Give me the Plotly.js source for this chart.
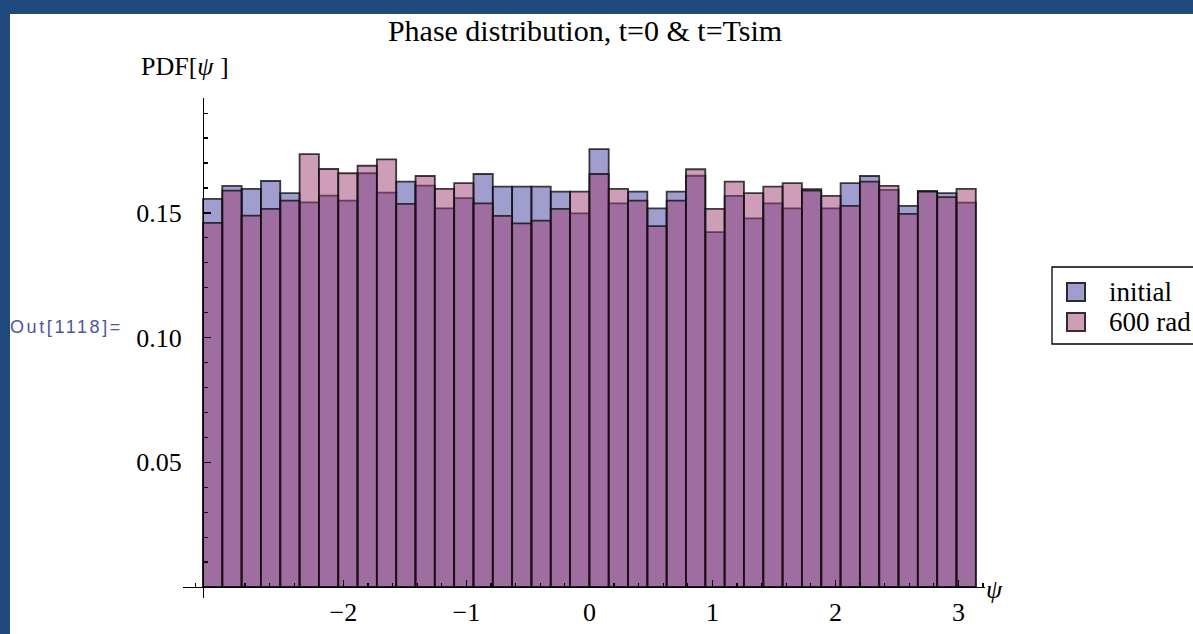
<!DOCTYPE html>
<html><head><meta charset="utf-8">
<script src="https://cdn.plot.ly/plotly-3.0.1.min.js"></script>
<style>
html,body{margin:0;padding:0;background:#1f487c;width:1193px;height:634px;overflow:hidden;}
#plot{position:absolute;left:10px;top:14px;width:1183px;height:620px;background:#fff;}
</style></head><body><div id="plot"></div>
<script>
// ---- data ----
const binCount = 40;
const binStart = -Math.PI;
const binEnd = Math.PI;
const seriesNames = ['initial', '600 rad'];
const initialPDF = [0.1556,0.1608,0.1596,0.1628,0.1579,0.1542,0.1569,0.1549,0.1659,0.1581,
                    0.1625,0.1609,0.1518,0.1559,0.1656,0.1605,0.1605,0.1605,0.1585,0.1498,
                    0.1756,0.1538,0.1585,0.1518,0.1585,0.1649,0.1423,0.1568,0.1478,0.1538,
                    0.1518,0.1595,0.1518,0.1619,0.1648,0.1592,0.1528,0.1588,0.1579,0.1541];
const finalPDF   = [0.1460,0.1589,0.1489,0.1516,0.1549,0.1736,0.1676,0.1659,0.1689,0.1715,
                    0.1536,0.1648,0.1596,0.1619,0.1538,0.1488,0.1458,0.1469,0.1516,0.1585,
                    0.1656,0.1596,0.1549,0.1447,0.1549,0.1675,0.1516,0.1625,0.1579,0.1605,
                    0.1619,0.1589,0.1568,0.1528,0.1625,0.1608,0.1496,0.1585,0.1563,0.1596];
const xTickValues = [-2,-1,0,1,2,3];
const xTickLabels = ['\u22122','\u22121','0','1','2','3'];
const yTickValues = [0.05,0.10,0.15];
const yTickLabels = ['0.05','0.10','0.15'];
const titleText = 'Phase distribution, t=0 &amp; t=Tsim';
const yLabelText = 'PDF[<i>\u03c8</i> ]';
const xLabelText = '<i>\u03c8</i>';
const outLabel = 'Out[1118]=';

// ---- geometry (page pixels) ----
const OX = 10, OY = 14, W = 1183, H = 620;
const PL = 183, PR = 985, PT = 98, PB = 598;
const X0PX = 589.4, XUNIT = 123;   // pixel of x=0, px per unit
const Y0PX = 587, YUNIT = 2494;    // pixel of y=0, px per unit
const fx = px => (px - PL) / (PR - PL);
const fy = py => (PB - py) / (PB - PT);

const binWidth = (binEnd - binStart) / binCount;
const centers = initialPDF.map((_, i) => binStart + (i + 0.5) * binWidth);

const xMinor = [];
for (let k = -16; k <= 16; k++) if (k % 5 !== 0) xMinor.push(k / 5);
const yMinor = [];
for (let k = 1; k <= 19; k++) if (k % 5 !== 0) yMinor.push(k / 100);

const serif = 'Liberation Serif, Times New Roman, serif';
const edge = {color: 'rgba(15,15,15,0.8)', width: 1.8};

const traces = [
  {type: 'bar', name: seriesNames[0], x: centers, y: initialPDF, width: binWidth,
   marker: {color: 'rgba(65,61,157,0.5)', line: edge}, hoverinfo: 'x+y'},
  {type: 'bar', name: seriesNames[1], x: centers, y: finalPDF, width: binWidth,
   marker: {color: 'rgba(157,61,115,0.5)', line: edge}, hoverinfo: 'x+y'}
];

const legTop = 267, legBot = 344, row1 = 292, row2 = 322, sq = 18, sqL = 1067;
const shapes = [
  {type: 'rect', xref: 'paper', yref: 'paper', x0: fx(1052), x1: fx(1240), y0: fy(legTop), y1: fy(legBot),
   line: {color: '#000', width: 1.3}, fillcolor: '#fff', layer: 'above'},
  {type: 'rect', xref: 'paper', yref: 'paper', x0: fx(sqL), x1: fx(sqL + sq), y0: fy(row1 - sq/2), y1: fy(row1 + sq/2),
   line: {color: '#2a2a3a', width: 2}, fillcolor: 'rgb(160,158,206)', layer: 'above'},
  {type: 'rect', xref: 'paper', yref: 'paper', x0: fx(sqL), x1: fx(sqL + sq), y0: fy(row2 - sq/2), y1: fy(row2 + sq/2),
   line: {color: '#3a2a32', width: 2}, fillcolor: 'rgb(206,158,185)', layer: 'above'}
];

const annotations = [
  {text: yLabelText, xref: 'paper', yref: 'paper', x: fx(185), y: fy(67), xanchor: 'center', yanchor: 'middle',
   showarrow: false, font: {family: serif, size: 26, color: '#000'}},
  {text: xLabelText, xref: 'paper', yref: 'paper', x: fx(994), y: fy(589), xanchor: 'center', yanchor: 'middle',
   showarrow: false, font: {family: serif, size: 26, color: '#000'}},
  {text: seriesNames[0], xref: 'paper', yref: 'paper', x: fx(1108), y: fy(row1), xanchor: 'left', yanchor: 'middle',
   showarrow: false, borderpad: 0, font: {family: serif, size: 27, color: '#000'}},
  {text: seriesNames[1], xref: 'paper', yref: 'paper', x: fx(1108), y: fy(row2), xanchor: 'left', yanchor: 'middle',
   showarrow: false, borderpad: 0, font: {family: serif, size: 27, color: '#000'}},
  {text: outLabel, xref: 'paper', yref: 'paper', x: fx(67), y: fy(327), xanchor: 'center', yanchor: 'middle',
   showarrow: false, font: {family: 'Liberation Sans, Arial, sans-serif', size: 18, color: '#4b55a3'}}
];

const axisCommon = {
  showgrid: false, zeroline: false, showline: true, linecolor: '#000', linewidth: 1.3,
  ticks: 'inside', ticklen: 7, tickwidth: 1.3, tickcolor: '#000', tickmode: 'array',
  tickfont: {family: serif, size: 26, color: '#000'}, anchor: 'free', fixedrange: true
};

const layout = {
  width: W, height: H,
  margin: {l: PL - OX, r: W - (PR - OX), t: PT - OY, b: H - (PB - OY), pad: 0},
  paper_bgcolor: '#fff', plot_bgcolor: 'rgba(0,0,0,0)',
  barmode: 'overlay', bargap: 0, showlegend: false,
  title: {text: titleText, font: {family: serif, size: 30, color: '#000'},
          xref: 'container', yref: 'container', x: (585 - OX) / W, xanchor: 'center',
          y: 1 - (30 - OY) / H, yanchor: 'middle'},
  xaxis: Object.assign({}, axisCommon, {
    range: [(PL - X0PX) / XUNIT, (PR - X0PX) / XUNIT],
    tickvals: xTickValues, ticktext: xTickLabels,
    position: (PB - Y0PX) / (PB - PT), ticklabelstandoff: 1,
    minor: {tickmode: 'array', tickvals: xMinor, ticks: 'inside', ticklen: 4, tickwidth: 1.2, tickcolor: '#000'}
  }),
  yaxis: Object.assign({}, axisCommon, {
    range: [(Y0PX - PB) / YUNIT, (Y0PX - PT) / YUNIT],
    tickvals: yTickValues, ticktext: yTickLabels,
    position: (203 - PL) / (PR - PL), ticklabelstandoff: 16,
    minor: {tickmode: 'array', tickvals: yMinor, ticks: 'inside', ticklen: 4, tickwidth: 1.2, tickcolor: '#000'}
  }),
  shapes: shapes, annotations: annotations
};

Plotly.newPlot('plot', traces, layout, {displayModeBar: false, staticPlot: true}).then(() => {
  document.querySelectorAll('.annotation-text').forEach(el => {
    if (el.textContent === outLabel) el.setAttribute('letter-spacing', '2.6');
  });
});
</script></body></html>
